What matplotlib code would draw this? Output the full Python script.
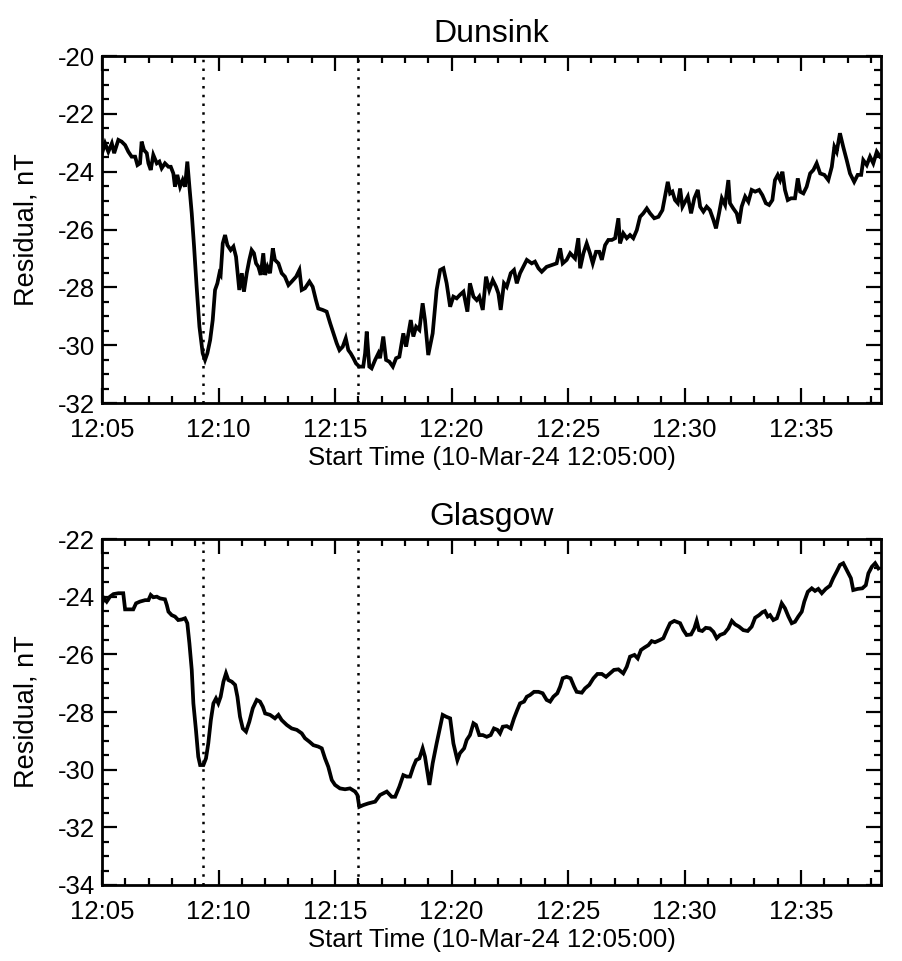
import numpy as np
import matplotlib
matplotlib.use("Agg")
import matplotlib.pyplot as plt
from matplotlib.ticker import MultipleLocator, FuncFormatter

plt.rcParams['font.family'] = ['Liberation Sans', 'DejaVu Sans']

# minutes after 12:05:00, residual in nT
dun_t = [0.00, 0.13, 0.27, 0.42, 0.52, 0.70, 0.84, 0.99, 1.13, 1.27, 1.42, 1.52, 1.63, 1.70, 1.80,
         1.92, 1.99, 2.09, 2.20, 2.35, 2.46, 2.56, 2.70, 2.85, 2.95, 3.06, 3.13, 3.23, 3.35, 3.46,
         3.56, 3.66, 3.75, 3.85, 3.95, 4.06, 4.18, 4.32, 4.42, 4.52, 4.64, 4.75, 4.85, 4.95, 5.04,
         5.09, 5.18, 5.28, 5.38, 5.52, 5.64, 5.75, 5.89, 6.00, 6.09, 6.21, 6.32, 6.42, 6.52, 6.61,
         6.71, 6.81, 6.92, 7.00, 7.10, 7.21, 7.33, 7.42, 7.57, 7.71, 7.85, 8.00, 8.14, 8.33, 8.47,
         8.57, 8.71, 8.90, 9.04, 9.18, 9.28, 9.47, 9.64, 9.79, 9.93, 10.07, 10.19, 10.33, 10.46,
         10.57, 10.67, 10.79, 10.90, 11.04, 11.21, 11.29, 11.36, 11.47, 11.57, 11.72, 11.86, 11.93,
         12.07, 12.19, 12.33, 12.48, 12.62, 12.76, 12.93, 13.05, 13.15, 13.25, 13.36, 13.48, 13.62,
         13.76, 13.86, 14.00, 14.19, 14.36, 14.51, 14.65, 14.79, 14.94, 15.08, 15.22, 15.36, 15.51,
         15.68, 15.79, 15.94, 16.08, 16.19, 16.34, 16.48, 16.62, 16.77, 16.91, 17.01, 17.11, 17.25,
         17.37, 17.54, 17.68, 17.80, 17.94, 18.08, 18.23, 18.44, 18.58, 18.73, 18.87, 19.08, 19.30,
         19.51, 19.66, 19.77, 19.94, 20.09, 20.30, 20.44, 20.52, 20.66, 20.80, 20.94, 21.06, 21.20,
         21.34, 21.45, 21.59, 21.73, 21.88, 22.02, 22.16, 22.23, 22.37, 22.52, 22.66, 22.80, 22.95,
         23.09, 23.23, 23.38, 23.52, 23.70, 23.88, 24.05, 24.16, 24.28, 24.38, 24.48, 24.59, 24.71,
         24.81, 24.91, 25.02, 25.14, 25.28, 25.42, 25.57, 25.67, 25.81, 25.95, 26.09, 26.24, 26.35,
         26.48, 26.60, 26.74, 26.88, 26.95, 27.09, 27.24, 27.34, 27.45, 27.60, 27.74, 27.88, 28.03,
         28.20, 28.34, 28.49, 28.63, 28.77, 28.88, 29.00, 29.10, 29.20, 29.31, 29.43, 29.57, 29.74,
         29.86, 29.96, 30.10, 30.24, 30.39, 30.53, 30.67, 30.82, 31.00, 31.17, 31.32, 31.43, 31.53,
         31.67, 31.81, 31.96, 32.10, 32.28, 32.43, 32.58, 32.67, 32.82, 32.96, 33.10, 33.25, 33.39]
dun_v = [-23.36, -23.02, -23.31, -23.02, -23.36, -22.90, -22.96, -23.08, -23.31, -23.48, -23.48,
         -23.77, -23.71, -22.96, -23.25, -23.36, -23.71, -23.94, -23.42, -23.71, -23.65, -23.88,
         -23.71, -23.83, -23.83, -24.06, -24.52, -24.11, -24.52, -24.29, -24.52, -23.65, -24.52,
         -25.44, -26.59, -27.98, -29.36, -30.28, -30.51, -30.28, -29.82, -29.13, -28.09, -27.86,
         -27.51, -27.57, -26.48, -26.19, -26.54, -26.71, -26.59, -26.94, -28.09, -27.51, -28.15,
         -27.51, -27.05, -26.71, -26.82, -27.17, -27.29, -27.57, -26.82, -27.57, -27.29, -27.51,
         -26.65, -27.05, -27.17, -27.51, -27.63, -27.92, -27.80, -27.63, -27.40, -28.09, -28.03,
         -27.80, -27.98, -28.44, -28.73, -28.78, -28.84, -29.24, -29.59, -29.93, -30.17, -30.05,
         -29.76, -30.17, -30.28, -30.45, -30.63, -30.74, -30.74, -30.28, -29.53, -30.74, -30.80,
         -30.51, -30.28, -30.45, -29.70, -30.51, -30.57, -30.74, -30.45, -30.40, -29.59, -30.05,
         -29.59, -29.13, -29.70, -29.36, -29.47, -28.55, -29.13, -30.34, -29.59, -28.09, -27.40,
         -27.34, -27.86, -28.67, -28.32, -28.38, -28.26, -28.15, -28.84, -27.86, -28.32, -28.44,
         -28.32, -28.78, -27.63, -28.09, -27.75, -27.98, -28.21, -28.78, -27.86, -27.98, -27.51,
         -27.40, -27.86, -27.51, -27.29, -27.05, -27.17, -27.11, -27.34, -27.46, -27.29, -27.23,
         -27.17, -26.65, -27.17, -27.05, -26.82, -27.00, -26.30, -27.34, -26.82, -26.48, -26.82,
         -27.17, -26.77, -26.77, -27.05, -26.54, -26.36, -26.36, -26.30, -25.61, -26.48, -26.13,
         -26.30, -26.19, -26.30, -26.02, -25.56, -25.44, -25.27, -25.44, -25.61, -25.56, -25.33,
         -24.86, -24.35, -24.75, -24.69, -24.98, -25.09, -24.58, -25.21, -25.04, -24.86, -25.44,
         -24.92, -24.63, -25.21, -25.38, -25.21, -25.33, -25.67, -25.96, -25.44, -24.92, -25.15,
         -24.29, -25.09, -25.27, -25.44, -25.79, -25.21, -24.86, -25.04, -24.63, -24.69, -24.63,
         -24.81, -25.09, -25.15, -24.98, -24.29, -24.11, -24.29, -24.00, -24.63, -24.98, -24.92,
         -24.92, -24.23, -24.69, -24.75, -24.52, -24.06, -23.94, -23.71, -24.06, -24.11, -24.29,
         -23.83, -23.14, -23.31, -22.67, -23.14, -23.60, -24.06, -24.35, -24.11, -24.11, -23.60,
         -23.77, -23.48, -23.71, -23.31, -23.48]

gla_t = [0.00, 0.09, 0.20, 0.34, 0.49, 0.70, 0.91, 0.99, 1.20, 1.34, 1.46, 1.63, 1.85, 1.99, 2.09,
         2.20, 2.35, 2.49, 2.70, 2.78, 2.85, 2.99, 3.13, 3.27, 3.42, 3.56, 3.66, 3.75, 3.85, 3.92,
         4.03, 4.13, 4.21, 4.35, 4.46, 4.56, 4.67, 4.78, 4.89, 4.99, 5.09, 5.21, 5.32, 5.42, 5.57,
         5.71, 5.81, 5.92, 6.04, 6.18, 6.32, 6.47, 6.64, 6.78, 6.90, 7.00, 7.21, 7.42, 7.57, 7.71,
         7.93, 8.14, 8.36, 8.57, 8.71, 8.90, 9.07, 9.28, 9.43, 9.57, 9.71, 9.86, 10.00, 10.21, 10.43,
         10.64, 10.86, 10.96, 11.04, 11.21, 11.43, 11.72, 11.93, 12.22, 12.43, 12.58, 12.76, 12.93,
         13.08, 13.22, 13.36, 13.48, 13.62, 13.76, 13.86, 14.05, 14.19, 14.36, 14.51, 14.62, 14.76,
         14.94, 15.08, 15.25, 15.36, 15.54, 15.65, 15.79, 15.94, 16.05, 16.19, 16.34, 16.51, 16.68,
         16.82, 16.97, 17.08, 17.20, 17.37, 17.54, 17.68, 17.82, 17.94, 18.11, 18.23, 18.37, 18.54,
         18.73, 18.91, 19.08, 19.23, 19.37, 19.54, 19.66, 19.77, 19.94, 20.11, 20.26, 20.37, 20.59,
         20.73, 20.91, 21.09, 21.26, 21.45, 21.63, 21.80, 21.97, 22.16, 22.37, 22.52, 22.66, 22.85,
         22.99, 23.13, 23.27, 23.45, 23.59, 23.73, 23.95, 24.09, 24.24, 24.38, 24.56, 24.81, 24.95,
         25.09, 25.28, 25.42, 25.52, 25.62, 25.76, 25.91, 26.09, 26.24, 26.38, 26.52, 26.71, 26.88,
         27.03, 27.17, 27.34, 27.52, 27.71, 27.88, 28.03, 28.20, 28.34, 28.45, 28.57, 28.67, 28.81,
         28.96, 29.06, 29.17, 29.31, 29.46, 29.60, 29.74, 29.88, 30.03, 30.14, 30.29, 30.46, 30.60,
         30.74, 30.89, 31.06, 31.24, 31.38, 31.53, 31.67, 31.81, 31.96, 32.14, 32.24, 32.43, 32.63,
         32.78, 32.89, 33.04, 33.18, 33.32]
gla_v = [-24.23, -24.06, -24.17, -24.00, -23.91, -23.88, -23.88, -24.44, -24.44, -24.44, -24.23,
         -24.17, -24.12, -24.12, -23.94, -24.02, -24.00, -24.06, -24.09, -24.29, -24.52, -24.64,
         -24.69, -24.81, -24.79, -24.75, -24.92, -25.62, -26.54, -27.70, -28.62, -29.55, -29.84,
         -29.84, -29.61, -29.09, -28.28, -27.70, -27.53, -27.70, -27.47, -26.95, -26.66, -26.89,
         -26.95, -27.06, -27.47, -28.16, -28.57, -28.68, -28.34, -27.87, -27.58, -27.64, -27.82,
         -28.05, -28.10, -28.22, -28.10, -28.28, -28.45, -28.57, -28.62, -28.74, -28.91, -29.03,
         -29.15, -29.20, -29.26, -29.61, -29.90, -30.36, -30.53, -30.65, -30.68, -30.65, -30.76,
         -30.88, -31.29, -31.23, -31.17, -31.11, -30.88, -30.76, -30.94, -30.94, -30.59, -30.19,
         -30.24, -30.24, -29.90, -29.67, -29.61, -29.26, -29.55, -30.53, -29.78, -29.09, -28.51,
         -28.10, -28.16, -28.22, -29.09, -29.67, -29.43, -29.26, -28.97, -28.80, -28.39, -28.45,
         -28.80, -28.80, -28.86, -28.80, -28.57, -28.62, -28.74, -28.51, -28.49, -28.57, -28.22,
         -27.93, -27.70, -27.64, -27.47, -27.41, -27.30, -27.30, -27.35, -27.58, -27.64, -27.47,
         -27.35, -27.12, -26.83, -26.78, -26.83, -27.12, -27.30, -27.33, -27.18, -27.06, -26.83,
         -26.68, -26.68, -26.78, -26.66, -26.54, -26.52, -26.66, -26.43, -26.08, -26.02, -26.14,
         -25.85, -25.77, -25.68, -25.54, -25.58, -25.50, -25.44, -25.16, -24.92, -24.84, -24.92,
         -25.16, -25.33, -25.31, -25.10, -24.84, -25.16, -25.19, -25.08, -25.10, -25.22, -25.44,
         -25.33, -25.27, -25.10, -24.84, -24.96, -25.04, -25.16, -25.19, -25.04, -24.73, -24.64,
         -24.54, -24.50, -24.69, -24.64, -24.81, -24.75, -24.52, -24.23, -24.40, -24.69, -24.92,
         -24.87, -24.69, -24.52, -24.17, -23.83, -23.71, -23.80, -23.73, -23.88, -23.73, -23.62,
         -23.36, -23.13, -22.90, -22.84, -23.08, -23.36, -23.77, -23.73, -23.71, -23.60, -23.19,
         -22.96, -22.84, -23.02]

stations = ['Dunsink', 'Glasgow']
ylims = [(-32, -20), (-34, -22)]
event_t = [4.33, 11.0]   # dotted markers, minutes after 12:05
x_end = 33.43

fig = plt.figure(figsize=(9.03, 9.61), dpi=100)
ax1 = fig.add_axes([0.1130, 0.5806, 0.8626, 0.3611])
ax2 = fig.add_axes([0.1130, 0.0791, 0.8626, 0.3600])

fmt = FuncFormatter(lambda x, pos: '12:%02d' % (5 + int(round(x))))

for ax, name, t, v, yl in zip([ax1, ax2], stations, [dun_t, gla_t], [dun_v, gla_v], ylims):
    ax.plot(t, v, color='black', lw=2.7, solid_joinstyle='miter')
    for et in event_t:
        ax.axvline(et, color='black', ls=(0, (1, 2.5)), lw=1.8)
    ax.set_xlim(0, x_end)
    ax.set_ylim(*yl)
    ax.xaxis.set_major_locator(MultipleLocator(5))
    ax.xaxis.set_minor_locator(MultipleLocator(1))
    ax.yaxis.set_major_locator(MultipleLocator(2))
    ax.yaxis.set_minor_locator(MultipleLocator(0.5))
    ax.xaxis.set_major_formatter(fmt)
    ax.yaxis.set_major_formatter(FuncFormatter(lambda y, pos: '%d' % y))
    ax.tick_params(which='both', direction='in', top=True, right=True, width=1.6,
                   labelsize=18.5)
    ax.tick_params(which='major', length=10.5)
    ax.tick_params(which='minor', length=5)
    ax.tick_params(axis='x', which='major', pad=11)
    ax.tick_params(axis='y', which='major', pad=5)
    for s in ax.spines.values():
        s.set_linewidth(2)
    ax.set_title(name, fontsize=23, pad=10)
    ax.set_xlabel('Start Time (10-Mar-24 12:05:00)', fontsize=18.5, labelpad=3)
    ax.set_ylabel('Residual, nT', fontsize=19.5, labelpad=13)

fig.savefig('out.png', dpi=100)
